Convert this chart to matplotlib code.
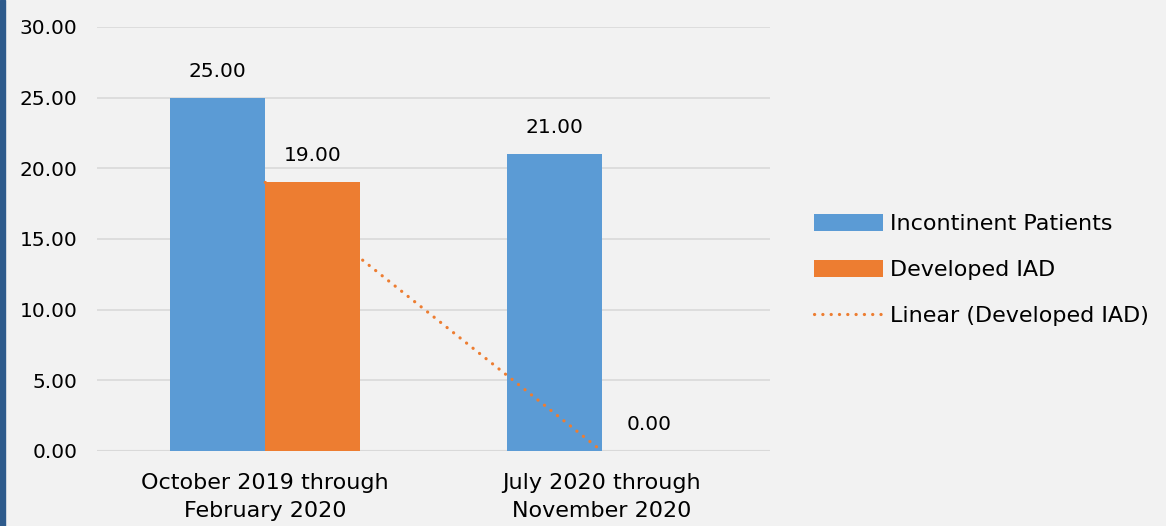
import matplotlib.pyplot as plt
import numpy as np
from matplotlib.patches import Rectangle

plt.rcParams['font.family'] = ['DejaVu Sans']

categories = ["October 2019 through\nFebruary 2020", "July 2020 through\nNovember 2020"]
incontinent = [25.0, 21.0]
developed_iad = [19.0, 0.0]
yticks = [0, 5, 10, 15, 20, 25, 30]

blue = '#5B9BD5'
orange = '#ED7D31'
bg = '#F2F2F2'

fig = plt.figure(figsize=(11.66, 5.26), dpi=100, facecolor=bg)
ax = fig.add_axes([0.0832, 0.1426, 0.5772, 0.8061])
ax.set_facecolor(bg)

x = np.arange(len(categories))
w = 0.283
b1 = ax.bar(x - w / 2, incontinent, w, color=blue, zorder=2, label='Incontinent Patients')
b2 = ax.bar(x + w / 2, developed_iad, w, color=orange, zorder=4, label='Developed IAD')

# linear trendline for Developed IAD (at category positions)
coef = np.polyfit(x, developed_iad, 1)
tl, = ax.plot(x, np.polyval(coef, x), linestyle=(0, (0.05, 2.55)), color=orange, lw=2.3,
              dash_capstyle='round', zorder=3, label='Linear (Developed IAD)')

for bars, vals in ((b1, incontinent), (b2, developed_iad)):
    for r, v in zip(bars, vals):
        ax.text(r.get_x() + r.get_width() / 2, v + 1.2, f"{v:.2f}",
                ha='center', va='bottom', fontsize=14.5, color='black')

ax.set_xlim(-0.5, 1.5)
ax.set_ylim(0, 30)
ax.set_yticks(yticks)
ax.set_yticklabels([f"{t:.2f}" for t in yticks], fontsize=14.5)
ax.set_xticks(x)
ax.set_xticklabels(categories, fontsize=16, linespacing=1.5)
ax.tick_params(length=0)
ax.tick_params(axis='x', pad=16)
ax.tick_params(axis='y', pad=14)
ax.grid(axis='y', color='#D9D9D9', lw=1.2, zorder=0)
for s in ax.spines.values():
    s.set_visible(False)
ax.axhline(0, color='#D9D9D9', lw=1.5, zorder=1)

ax.legend([b1, b2, tl], ['Incontinent Patients', 'Developed IAD', 'Linear (Developed IAD)'],
          loc='center left', bbox_to_anchor=(1.036, 0.427), frameon=False,
          fontsize=16, handlelength=3.1, handleheight=0.8, handletextpad=0.3,
          labelspacing=1.15)

fig.patches.append(Rectangle((0, 0), 5 / 1166, 1, transform=fig.transFigure,
                             color='#2E5B8C', zorder=10))

fig.savefig('out.png', dpi=100, facecolor=bg)
